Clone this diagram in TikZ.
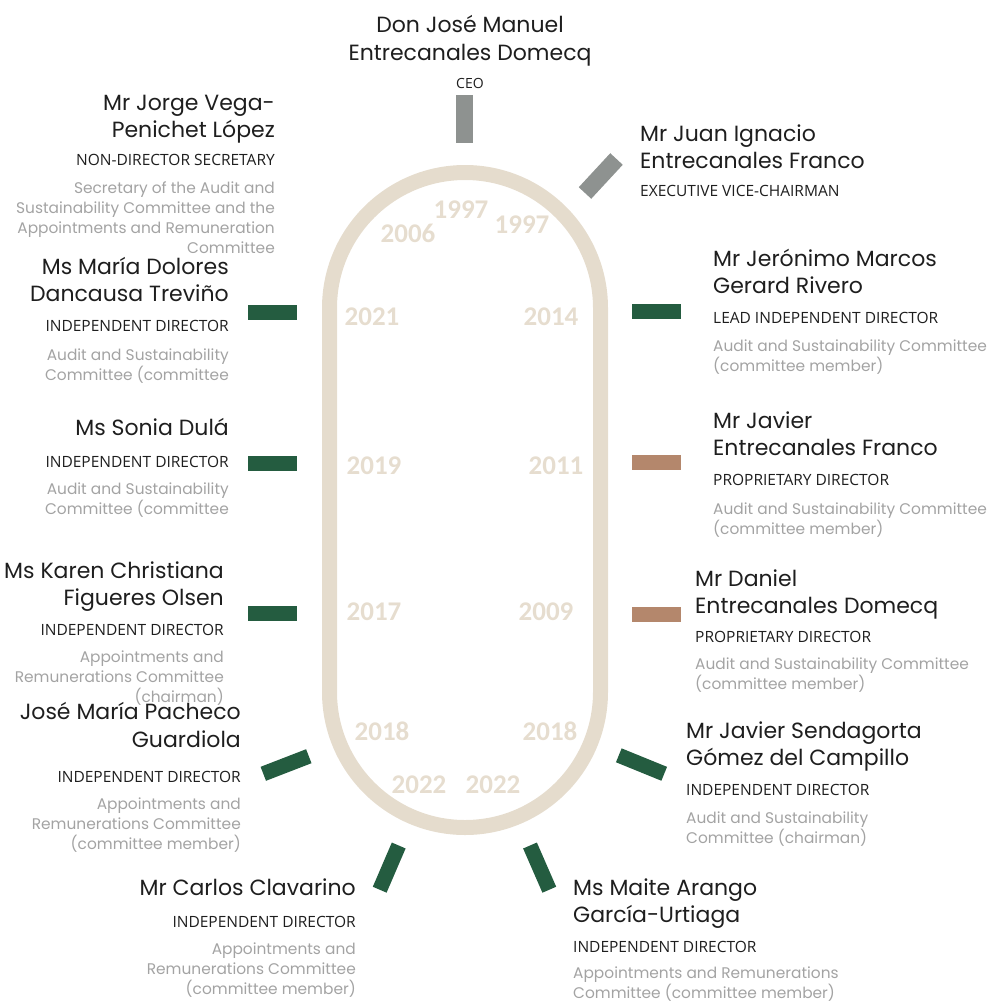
\documentclass[tikz,border=0pt]{standalone}
\usepackage{fontspec}
\newfontfamily\namefont{Poppins}
\newfontfamily\rolefont{Open Sans}
\newfontfamily\yearfont{Carlito}
\definecolor{beige}{HTML}{E5DCCD}
\definecolor{yearc}{HTML}{E6DDCF}
\definecolor{dgreen}{HTML}{245C40}
\definecolor{barg}{HTML}{8E9290}
\definecolor{brown}{HTML}{B4876C}
\definecolor{lgray}{HTML}{A3A3A3}
\definecolor{ink}{HTML}{1E1E1E}
\tikzset{
  nmL/.style={font=\namefont\fontsize{22}{27}\selectfont, text=ink, inner sep=0pt, align=right, anchor=base east},
  nmR/.style={font=\namefont\fontsize{22}{27}\selectfont, text=ink, inner sep=0pt, align=left, anchor=base west},
  roleL/.style={font=\rolefont\fontsize{15.5}{17}\selectfont, text=ink, inner sep=0pt, anchor=base east},
  roleR/.style={font=\rolefont\fontsize{15.5}{17}\selectfont, text=ink, inner sep=0pt, anchor=base west},
  comL/.style={font=\namefont\fontsize{15.4}{20}\selectfont, text=lgray, inner sep=0pt, align=right, anchor=base east},
  comR/.style={font=\namefont\fontsize{15.4}{20}\selectfont, text=lgray, inner sep=0pt, align=left, anchor=base west},
  yr/.style={font=\yearfont\bfseries\fontsize{27}{27}\selectfont, text=yearc, inner sep=0pt, anchor=base},
  bar/.style={line width=15pt, line cap=butt},
}
\begin{document}
\begin{tikzpicture}[x=1pt,y=-1pt]
\useasboundingbox (0,0) rectangle (986,1001);
% stadium track
\draw[beige, line width=15pt, rounded corners=135.5pt] (329.5,172.5) rectangle (600.5,827.5);
% years
\node[yr] (y1) at (461,218) {1997};
\node[yr] (y2) at (408,242) {2006};
\node[yr] (y3) at (522,233) {1997};
\node[yr] (y4) at (372,325) {2021};
\node[yr] (y5) at (551,325) {2014};
\node[yr] (y6) at (374,474) {2019};
\node[yr] (y7) at (556,474) {2011};
\node[yr] (y8) at (374,620) {2017};
\node[yr] (y9) at (546,620) {2009};
\node[yr] (y10) at (382,740) {2018};
\node[yr] (y11) at (550,740) {2018};
\node[yr] (y12) at (419,793) {2022};
\node[yr] (y13) at (493,793) {2022};
% bars
\draw[bar, barg, line width=17pt] (464.5,95) -- (464.5,143);
\draw[bar, barg, line width=17pt] (585,193) -- (616.5,159);
\draw[bar, dgreen] (248,312) -- (297,312);
\draw[bar, dgreen] (248,463) -- (297,463);
\draw[bar, dgreen] (248,613) -- (297,613);
\draw[bar, dgreen] (632,311) -- (681,311);
\draw[bar, brown] (632,462) -- (681,462);
\draw[bar, brown] (632,614) -- (681,614);
\draw[bar, dgreen] (263.3,773.8) -- (308.8,756.2);
\draw[bar, dgreen] (618.8,755.3) -- (664.2,773.8);
\draw[bar, dgreen] (398.7,845.5) -- (379.7,889.7);
\draw[bar, dgreen] (530,845.5) -- (549.3,889.7);
% CEO (multi-line nodes: base anchor = last line baseline)
\node[font=\namefont\fontsize{22}{28}\selectfont, text=ink, inner sep=0pt, align=center, anchor=base] (ceo) at (470,60) {Don José Manuel\\Entrecanales Domecq};
\node[font=\rolefont\fontsize{14}{14}\selectfont, text=ink, inner sep=0pt, anchor=base] (ceor) at (470,88) {CEO};
% Jorge
\node[nmL] (jv) at (275,137) {Mr Jorge Vega-\\Penichet López};
\node[roleL] (jvr) at (275,165) {NON-DIRECTOR SECRETARY};
\node[comL] (jvc) at (275,253) {Secretary of the Audit and\\Sustainability Committee and the\\Appointments and Remuneration\\Committee};
% Maria Dolores
\node[nmL] (md) at (229,301) {Ms María Dolores\\Dancausa Treviño};
\node[roleL] (mdr) at (229,331) {INDEPENDENT DIRECTOR};
\node[comL] (mdc) at (229,380) {Audit and Sustainability\\Committee (committee};
% Sonia
\node[nmL] (sd) at (229,435) {Ms Sonia Dulá};
\node[roleL] (sdr) at (229,467) {INDEPENDENT DIRECTOR};
\node[comL] (sdc) at (229,514) {Audit and Sustainability\\Committee (committee};
% Karen
\node[nmL] (kf) at (224,605) {Ms Karen Christiana\\Figueres Olsen};
\node[roleL] (kfr) at (224,635) {INDEPENDENT DIRECTOR};
\node[comL] (kfc) at (224,702) {Appointments and\\Remunerations Committee\\(chairman)};
% Jose Maria
\node[nmL, font=\namefont\fontsize{22}{28}\selectfont] (jm) at (241,747) {José María Pacheco\\Guardiola};
\node[roleL] (jmr) at (241,782) {INDEPENDENT DIRECTOR};
\node[comL] (jmc) at (241,849) {Appointments and\\Remunerations Committee\\(committee member)};
% Carlos
\node[nmL] (cc) at (356,895) {Mr Carlos Clavarino};
\node[roleL] (ccr) at (356,927) {INDEPENDENT DIRECTOR};
\node[comL] (ccc) at (356,994) {Appointments and\\Remunerations Committee\\(committee member)};
% Juan Ignacio
\node[nmR] (ji) at (640,168) {Mr Juan Ignacio\\Entrecanales Franco};
\node[roleR] (jir) at (640,196) {EXECUTIVE VICE-CHAIRMAN};
% Jeronimo
\node[nmR] (jg) at (713,293) {Mr Jerónimo Marcos\\Gerard Rivero};
\node[roleR] (jgr) at (713,323) {LEAD INDEPENDENT DIRECTOR};
\node[comR] (jgc) at (713,371) {Audit and Sustainability Committee\\(committee member)};
% Javier EF
\node[nmR] (je) at (713,455) {Mr Javier\\Entrecanales Franco};
\node[roleR] (jer) at (713,485) {PROPRIETARY DIRECTOR};
\node[comR] (jec) at (713,534) {Audit and Sustainability Committee\\(committee member)};
% Daniel
\node[nmR] (de) at (695,613) {Mr Daniel\\Entrecanales Domecq};
\node[roleR] (der) at (695,642) {PROPRIETARY DIRECTOR};
\node[comR] (dec) at (695,689) {Audit and Sustainability Committee\\(committee member)};
% Javier Sendagorta
\node[nmR] (js) at (686,765) {Mr Javier Sendagorta\\Gómez del Campillo};
\node[roleR] (jsr) at (686,795) {INDEPENDENT DIRECTOR};
\node[comR] (jsc) at (686,843) {Audit and Sustainability\\Committee (chairman)};
% Maite
\node[nmR] (ma) at (573,922) {Ms Maite Arango\\García-Urtiaga};
\node[roleR] (mar) at (573,952) {INDEPENDENT DIRECTOR};
\node[comR] (mac) at (573,998) {Appointments and Remunerations\\Committee (committee member)};
\end{tikzpicture}
\end{document}
